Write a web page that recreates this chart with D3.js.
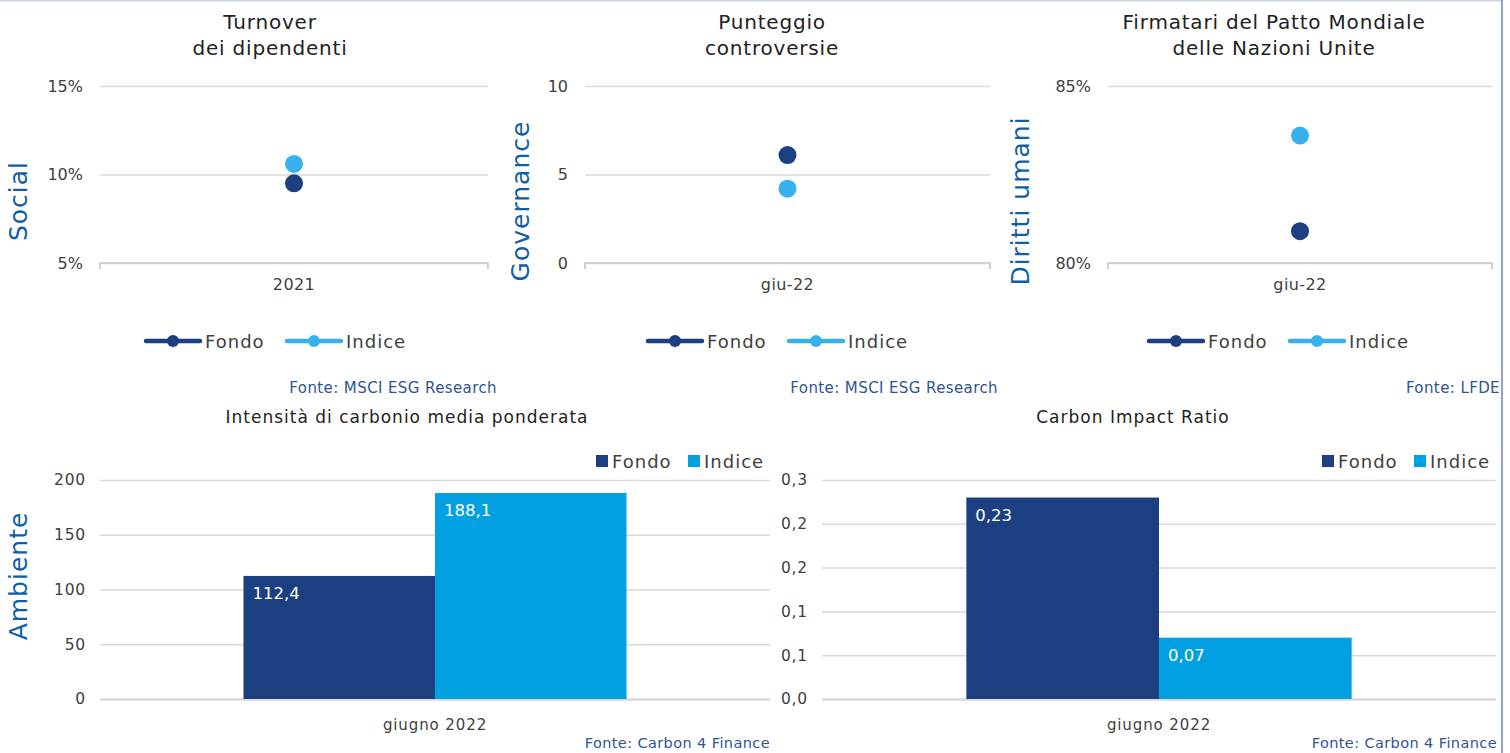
<!DOCTYPE html>
<html>
<head>
<meta charset="utf-8">
<script src="https://cdn.jsdelivr.net/npm/d3@7"></script>
<style>
  html, body { margin: 0; padding: 0; background: #fff; }
  svg { display: block; font-family: "DejaVu Sans", sans-serif; }
</style>
</head>
<body>
<svg id="chart" width="1510" height="753"></svg>
<script>
// ---------- DATA ----------
const seriesNames = ["Fondo", "Indice"];

const topTitles = [["Turnover", "dei dipendenti"], ["Punteggio", "controversie"], ["Firmatari del Patto Mondiale", "delle Nazioni Unite"]];
const topAxisTitles = ["Social", "Governance", "Diritti umani"];
const topCategories = ["2021", "giu-22", "giu-22"];
const topFondo = [9.5, 6.1, 80.9];
const topIndice = [10.6, 4.2, 83.6];
const topDomains = [[5, 15], [0, 10], [80, 85]];
const topTicks = [[5, 10, 15], [0, 5, 10], [80, 85]];
const topTickLabels = [["5%", "10%", "15%"], ["0", "5", "10"], ["80%", "85%"]];
const topSources = ["Fonte: MSCI ESG Research", "Fonte: MSCI ESG Research", "Fonte: LFDE"];

const bottomTitles = ["Intensità di carbonio media ponderata", "Carbon Impact Ratio"];
const bottomAxisTitle = "Ambiente";
const bottomCategories = ["giugno 2022", "giugno 2022"];
const bottomFondo = [112.4, 0.23];
const bottomIndice = [188.1, 0.07];
const bottomDataLabels = [["112,4", "188,1"], ["0,23", "0,07"]];
const bottomDomains = [[0, 200], [0, 0.25]];
const bottomTicks = [[0, 50, 100, 150, 200], [0, 0.05, 0.1, 0.15, 0.2, 0.25]];
const bottomTickLabels = [["0", "50", "100", "150", "200"], ["0,0", "0,1", "0,1", "0,2", "0,2", "0,3"]];
const bottomSources = ["Fonte: Carbon 4 Finance", "Fonte: Carbon 4 Finance"];

// ---------- STYLE / LAYOUT ----------
const C_FONDO = "#1b3f81";
const C_INDICE_PT = "#38b2ee";
const C_INDICE_BAR = "#00a0e3";
const C_GRID = "#d9d9d9";
const C_TEXT = "#404040";
const C_AXISTITLE = "#0f5fa6";
const C_SOURCE = "#2f5496";

const svg = d3.select("#chart");

// frame borders
svg.append("line").attr("x1", 0).attr("x2", 1503).attr("y1", 0.5).attr("y2", 0.5)
  .attr("stroke", "#c9d5e5").attr("stroke-width", 2);
svg.append("line").attr("x1", 1502).attr("x2", 1502).attr("y1", 0).attr("y2", 753)
  .attr("stroke", "#8fa5c5").attr("stroke-width", 2);

const topPanels = [
  { x0: 100, x1: 488, titleX: 270, axisX: 18, legendDot: 173, srcRight: 497 },
  { x0: 585, x1: 990, titleX: 772, axisX: 520, legendDot: 675, srcRight: 998 },
  { x0: 1108, x1: 1492, titleX: 1274, axisX: 1020, legendDot: 1176, srcRight: 1500 }
];
const topY0 = 263, topY1 = 86;

topPanels.forEach((p, i) => {
  const g = svg.append("g");
  const y = d3.scaleLinear().domain(topDomains[i]).range([topY0, topY1]);
  const x = d3.scaleBand().domain([topCategories[i]]).range([p.x0, p.x1]);

  // title
  const t = g.append("text").attr("x", p.titleX).attr("y", 29).attr("text-anchor", "middle")
    .attr("font-size", 20).attr("letter-spacing", 0.8).attr("fill", "#222");
  topTitles[i].forEach((line, k) => {
    t.append("tspan").attr("x", p.titleX).attr("dy", k === 0 ? 0 : 26).text(line);
  });

  // grid lines
  const yAxis = d3.axisLeft(y).tickValues(topTicks[i]).tickSize(-(p.x1 - p.x0))
    .tickFormat((d, k) => topTickLabels[i][k]).tickPadding(17);
  const ga = g.append("g").attr("transform", `translate(${p.x0},0)`).call(yAxis);
  ga.select(".domain").remove();
  ga.selectAll(".tick line").attr("stroke", C_GRID).attr("stroke-width", 1.5);
  ga.selectAll(".tick text").attr("font-size", 16).attr("fill", C_TEXT)
    .attr("font-family", "DejaVu Sans, sans-serif");

  // x axis baseline with end ticks
  const xAxis = d3.axisBottom(x).tickSize(0).tickPadding(16);
  const gx = g.append("g").attr("transform", `translate(0,${topY0})`).call(xAxis);
  gx.select(".domain").attr("stroke", "#d0d0d0").attr("stroke-width", 2)
    .attr("d", `M${p.x0},6V0H${p.x1}V6`);
  gx.selectAll(".tick text").attr("font-size", 16).attr("letter-spacing", 0.4).attr("fill", C_TEXT)
    .attr("font-family", "DejaVu Sans, sans-serif");

  // points
  const cx = x(topCategories[i]) + x.bandwidth() / 2;
  g.append("circle").attr("cx", cx).attr("cy", y(topFondo[i])).attr("r", 9).attr("fill", C_FONDO);
  g.append("circle").attr("cx", cx).attr("cy", y(topIndice[i])).attr("r", 9).attr("fill", C_INDICE_PT);

  // axis title
  g.append("text").attr("transform", `translate(${p.axisX + 9},201) rotate(-90)`)
    .attr("text-anchor", "middle").attr("font-size", 25).attr("letter-spacing", 1)
    .attr("fill", C_AXISTITLE).text(topAxisTitles[i]);

  // legend
  [C_FONDO, C_INDICE_PT].forEach((c, k) => {
    const dx = p.legendDot + k * 141;
    g.append("line").attr("x1", dx - 27).attr("x2", dx + 27).attr("y1", 341).attr("y2", 341)
      .attr("stroke", c).attr("stroke-width", 4.5).attr("stroke-linecap", "round");
    g.append("circle").attr("cx", dx).attr("cy", 341).attr("r", 6).attr("fill", c);
    g.append("text").attr("x", dx + 32).attr("y", 347.5).attr("font-size", 18)
      .attr("letter-spacing", 1).attr("fill", C_TEXT).text(seriesNames[k]);
  });

  // source
  g.append("text").attr("x", p.srcRight).attr("y", 393).attr("text-anchor", "end")
    .attr("font-size", 15).attr("letter-spacing", 0.4).attr("fill", C_SOURCE).text(topSources[i]);
});

const bottomPanels = [
  { x0: 100, x1: 770, titleX: 407, axisX: 18, legendSq: 596, srcRight: 770 },
  { x0: 822, x1: 1496, titleX: 1133, axisX: null, legendSq: 1322, srcRight: 1497 }
];
const botY0 = 699, botY1 = 480;

bottomPanels.forEach((p, i) => {
  const g = svg.append("g");
  const y = d3.scaleLinear().domain(bottomDomains[i]).range([botY0, botY1]);
  const x = d3.scaleBand().domain([bottomCategories[i]]).range([p.x0, p.x1]).padding(0.2725);
  const xs = d3.scaleBand().domain(seriesNames).range([0, x.bandwidth()]);

  g.append("text").attr("x", p.titleX).attr("y", 423).attr("text-anchor", "middle")
    .attr("font-size", 17).attr("letter-spacing", 1).attr("fill", "#222").text(bottomTitles[i]);

  const yAxis = d3.axisLeft(y).tickValues(bottomTicks[i]).tickSize(-(p.x1 - p.x0))
    .tickFormat((d, k) => bottomTickLabels[i][k]).tickPadding(14);
  const ga = g.append("g").attr("transform", `translate(${p.x0},0)`).call(yAxis);
  ga.select(".domain").remove();
  ga.selectAll(".tick line").attr("stroke", C_GRID).attr("stroke-width", 1.5);
  ga.selectAll(".tick").filter(d => d === 0).select("line").attr("stroke-width", 2.5);
  ga.selectAll(".tick text").attr("font-size", 15.5).attr("letter-spacing", 0.8).attr("fill", C_TEXT)
    .attr("font-family", "DejaVu Sans, sans-serif");

  const vals = [bottomFondo[i], bottomIndice[i]];
  const cols = [C_FONDO, C_INDICE_BAR];
  const bx = x(bottomCategories[i]);
  vals.forEach((v, k) => {
    const left = bx + xs(seriesNames[k]);
    g.append("rect").attr("x", left).attr("y", y(v)).attr("width", xs.bandwidth())
      .attr("height", y(0) - y(v)).attr("fill", cols[k]);
    g.append("text").attr("x", left + 9).attr("y", y(v) + 23).attr("font-size", 16.5)
      .attr("fill", "#fff").text(bottomDataLabels[i][k]);
  });

  const xAxis = d3.axisBottom(x).tickSize(0).tickPadding(20);
  const gx = g.append("g").attr("transform", `translate(0,${botY0})`).call(xAxis);
  gx.select(".domain").remove();
  gx.selectAll(".tick text").attr("font-size", 15).attr("letter-spacing", 0.9).attr("fill", C_TEXT)
    .attr("font-family", "DejaVu Sans, sans-serif");

  // legend squares
  [0, 1].forEach(k => {
    const sx = p.legendSq + k * 92;
    g.append("rect").attr("x", sx).attr("y", 455).attr("width", 12).attr("height", 12).attr("fill", cols[k]);
    g.append("text").attr("x", sx + 16).attr("y", 467.5).attr("font-size", 18)
      .attr("letter-spacing", 1).attr("fill", C_TEXT).text(seriesNames[k]);
  });

  g.append("text").attr("x", p.srcRight).attr("y", 748).attr("text-anchor", "end")
    .attr("font-size", 14.5).attr("letter-spacing", 0.4).attr("fill", C_SOURCE).text(bottomSources[i]);

  if (p.axisX !== null) {
    g.append("text").attr("transform", `translate(${p.axisX + 9},576) rotate(-90)`)
      .attr("text-anchor", "middle").attr("font-size", 25).attr("letter-spacing", 1)
      .attr("fill", C_AXISTITLE).text(bottomAxisTitle);
  }
});
</script>
</body>
</html>
